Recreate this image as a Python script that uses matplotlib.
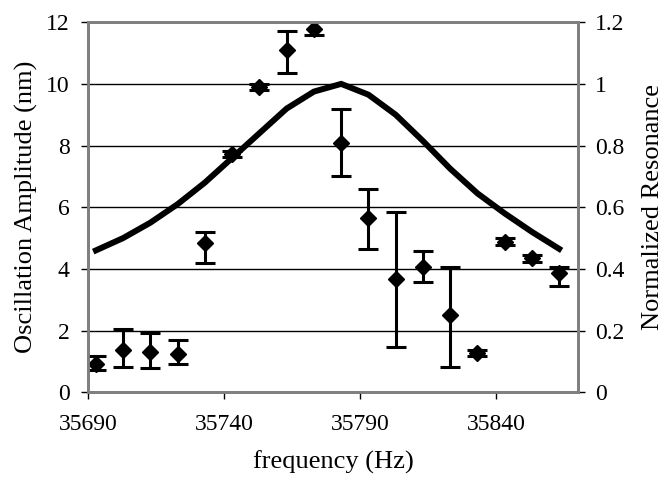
import matplotlib
matplotlib.use("Agg")
import matplotlib.pyplot as plt

plt.rcParams['font.family'] = ['Liberation Serif', 'DejaVu Serif']

# measured amplitude with error bars (left axis)
freq = [35693, 35703, 35713, 35723, 35733, 35743, 35753, 35763, 35773,
        35783, 35793, 35803, 35813, 35823, 35833, 35843, 35853, 35863]
amp = [0.91, 1.36, 1.31, 1.25, 4.83, 7.72, 9.91, 11.1, 11.77,
       8.09, 5.64, 3.66, 4.07, 2.5, 1.28, 4.88, 4.34, 3.85]
amp_hi = [1.17, 2.05, 1.93, 1.69, 5.2, 7.82, 10.01, 11.73, 12.08,
          9.19, 6.58, 5.83, 4.59, 4.07, 1.38, 5.0, 4.46, 4.07]
amp_lo = [0.71, 0.82, 0.79, 0.93, 4.2, 7.62, 9.81, 10.34, 11.59,
          7.02, 4.66, 1.47, 3.56, 0.82, 1.18, 4.76, 4.22, 3.44]

# normalized resonance curve (right axis)
res = [0.46, 0.50, 0.55, 0.61, 0.68, 0.76, 0.84, 0.92, 0.975,
       1.0, 0.965, 0.90, 0.815, 0.725, 0.645, 0.58, 0.52, 0.465]

yerr = [[a - l for a, l in zip(amp, amp_lo)], [h - a for a, h in zip(amp, amp_hi)]]

fig = plt.figure(figsize=(6.7, 4.83), dpi=100)
ax = fig.add_axes([0.131, 0.188, 0.732, 0.766])
ax2 = ax.twinx()

ax.set_zorder(2)
ax.patch.set_visible(False)

ax.errorbar(freq, amp, yerr=yerr, fmt='D', color='black', ms=8,
            elinewidth=2.2, capsize=7.5, capthick=2.2)
ax2.plot(freq, res, color='black', lw=4.3, solid_joinstyle='miter')

ax.set_xlim(35690, 35870)
ax.set_ylim(0, 12)
ax2.set_ylim(0, 1.2)
ax.set_xticks([35690, 35740, 35790, 35840])
ax.set_yticks(range(0, 13, 2))
ax2.set_yticks([0, 0.2, 0.4, 0.6, 0.8, 1.0, 1.2])
ax2.set_yticklabels(['0', '0.2', '0.4', '0.6', '0.8', '1', '1.2'])

ax2.yaxis.grid(True, color='black', lw=1)
ax2.set_axisbelow(True)

for a in (ax, ax2):
    for s in a.spines.values():
        s.set_color('#808080')
        s.set_linewidth(2)
    a.tick_params(direction='out', length=5, width=1, color='black', labelsize=17)

ax.tick_params(axis='y', pad=8)
ax.tick_params(axis='x', pad=11)
ax2.tick_params(axis='y', pad=7)

ax.set_xlabel('frequency (Hz)', fontsize=19, labelpad=11)
ax.set_ylabel('Oscillation Amplitude (nm)', fontsize=19, labelpad=6)
ax2.set_ylabel('Normalized Resonance', fontsize=19, rotation=90, labelpad=13)

fig.savefig('out.png', dpi=100)
